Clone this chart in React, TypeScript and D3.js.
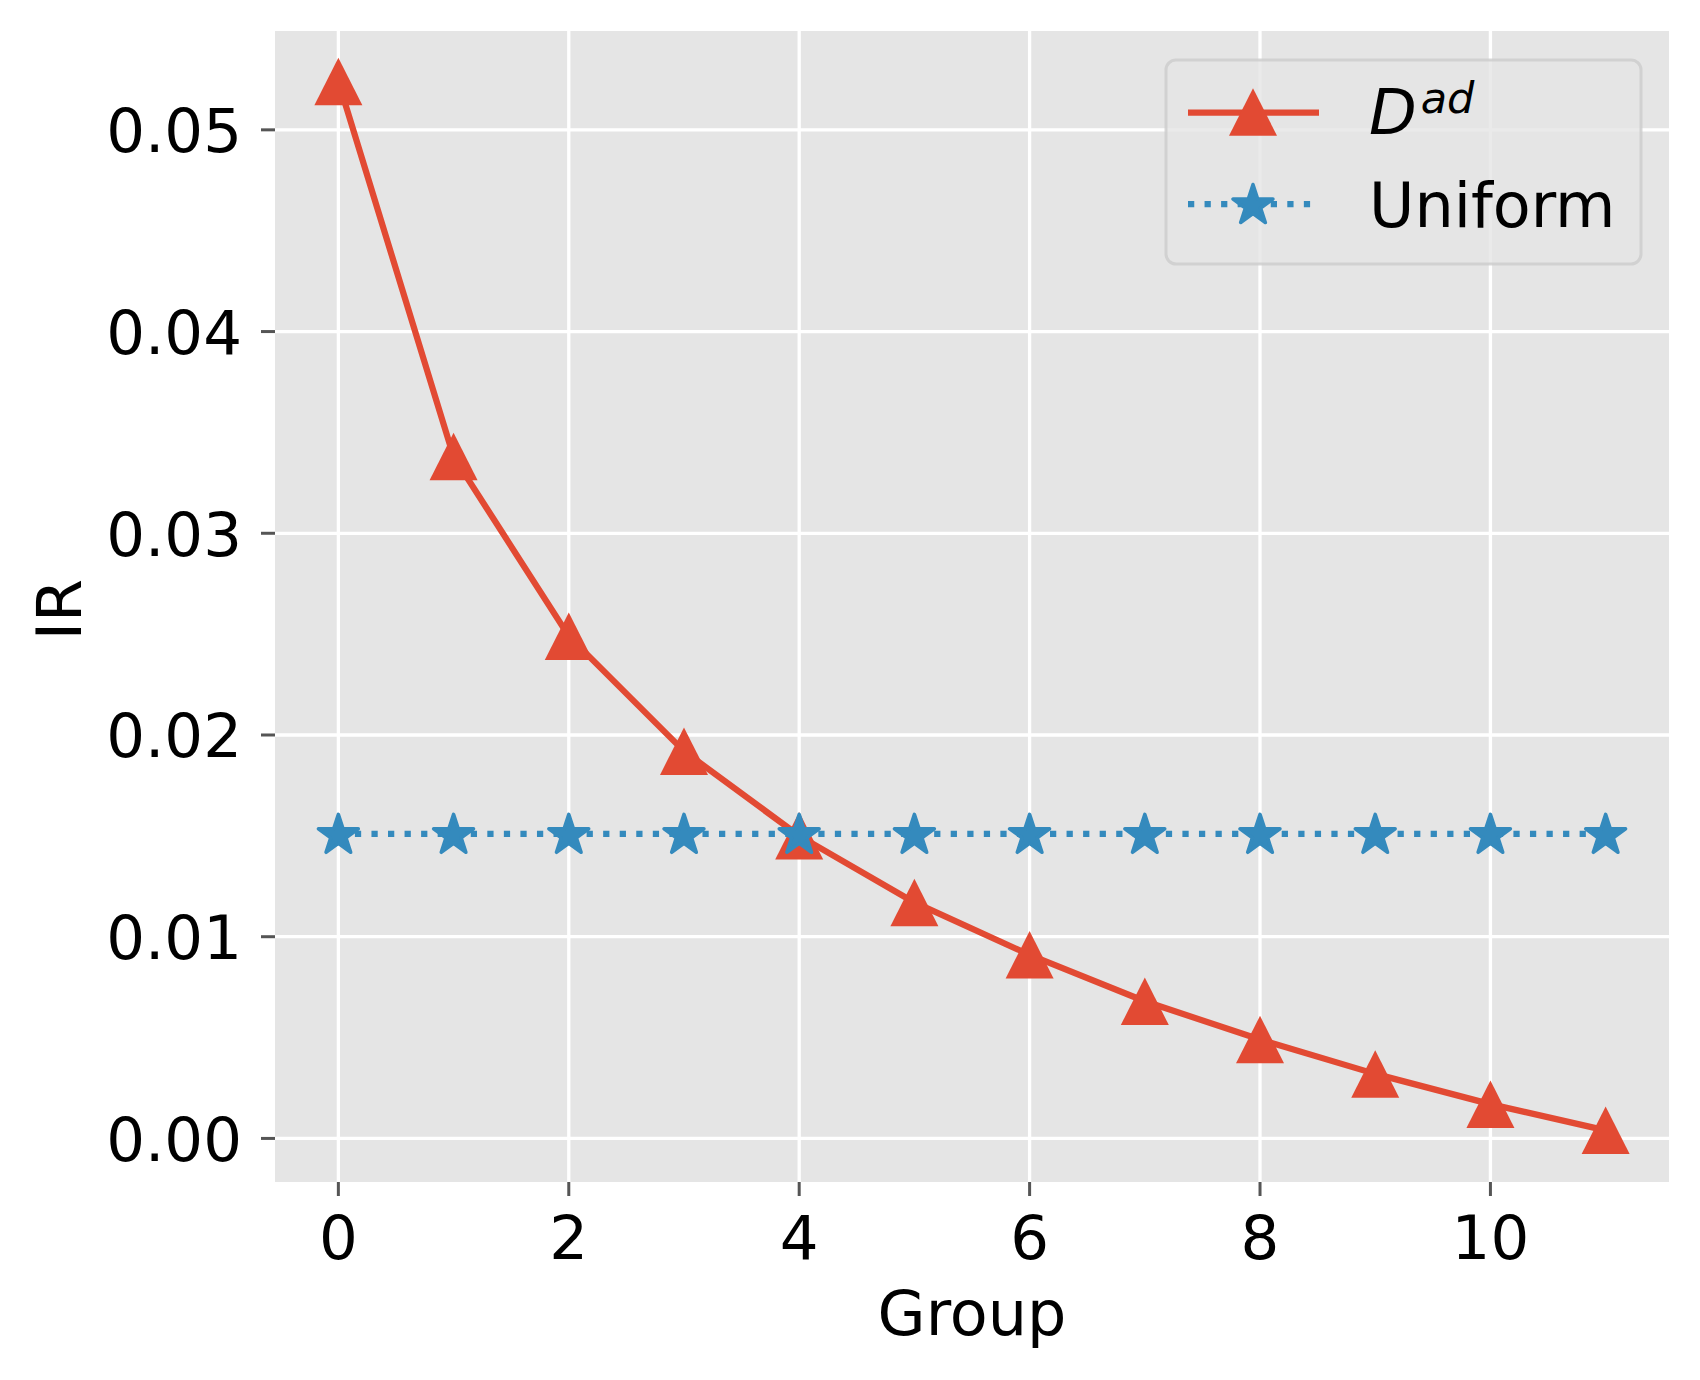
import * as d3 from 'd3';

// data
const groups = [0, 1, 2, 3, 4, 5, 6, 7, 8, 9, 10, 11];
const dadValues = [0.0524, 0.0338, 0.0249, 0.0192, 0.015, 0.0117, 0.0091, 0.0068, 0.0049, 0.0032, 0.0017, 0.0004];
const uniformValues = [0.0151, 0.0151, 0.0151, 0.0151, 0.0151, 0.0151, 0.0151, 0.0151, 0.0151, 0.0151, 0.0151, 0.0151];
const xTicks = [0, 2, 4, 6, 8, 10];
const yTicks = [0, 0.01, 0.02, 0.03, 0.04, 0.05];

const WIDTH = 1700;
const HEIGHT = 1380;
const plot = { left: 275, right: 1669, top: 31, bottom: 1182 };

const RED = '#E24A33';
const BLUE = '#348ABD';
const FONT = "'DejaVu Sans', sans-serif";

function trianglePath(w: number, h: number) {
  return `M0,${-h / 2}L${w / 2},${h / 2}L${-w / 2},${h / 2}Z`;
}

function starPath(r: number) {
  const inner = r * 0.381966;
  const pts: string[] = [];
  for (let i = 0; i < 10; i++) {
    const rad = i % 2 === 0 ? r : inner;
    const a = (Math.PI / 5) * i;
    pts.push(`${(rad * Math.sin(a)).toFixed(2)},${(-rad * Math.cos(a)).toFixed(2)}`);
  }
  return `M${pts.join('L')}Z`;
}

export default function App() {
  const x = d3.scaleLinear().domain([-0.55, 11.55]).range([plot.left, plot.right]);
  const y = d3.scaleLinear().domain([-0.00216, 0.0549]).range([plot.bottom, plot.top]);

  const line = d3
    .line<number>()
    .x((_, i) => x(groups[i]))
    .y((d) => y(d));

  const tri = trianglePath(48, 47.5);
  const star = starPath(21);

  // legend box
  const lg = { x: 1166, y: 60, w: 475, h: 204 };
  const handle = { x1: 1188, x2: 1319, mid: 1253 };

  return (
    <div style={{ position: 'absolute', left: 0, top: 0 }}>
      <svg width={WIDTH} height={HEIGHT} style={{ display: 'block', background: '#fff' }} fontFamily={FONT}>
        {/* axes background */}
        <rect x={plot.left} y={plot.top} width={plot.right - plot.left} height={plot.bottom - plot.top} fill="#E5E5E5" />

        {/* grid */}
        {xTicks.map((t) => (
          <line key={`gx${t}`} x1={x(t)} x2={x(t)} y1={plot.top} y2={plot.bottom} stroke="#fff" strokeWidth={3.3} />
        ))}
        {yTicks.map((t) => (
          <line key={`gy${t}`} x1={plot.left} x2={plot.right} y1={y(t)} y2={y(t)} stroke="#fff" strokeWidth={3.3} />
        ))}

        {/* ticks + labels */}
        {xTicks.map((t) => (
          <g key={`tx${t}`}>
            <line x1={x(t)} x2={x(t)} y1={plot.bottom} y2={plot.bottom + 14} stroke="#555" strokeWidth={3} />
            <text x={x(t)} y={1259} textAnchor="middle" fontSize={61} fill="#000">
              {t}
            </text>
          </g>
        ))}
        {yTicks.map((t) => (
          <g key={`ty${t}`}>
            <line x1={plot.left - 14} x2={plot.left} y1={y(t)} y2={y(t)} stroke="#555" strokeWidth={3} />
            <text x={242} y={y(t) + 22.5} textAnchor="end" fontSize={61} fill="#000">
              {d3.format('.2f')(t)}
            </text>
          </g>
        ))}

        {/* axis labels */}
        <text x={(plot.left + plot.right) / 2} y={1335} textAnchor="middle" fontSize={62} fill="#000">
          Group
        </text>
        <text
          transform={`translate(81,${(plot.top + plot.bottom) / 2 + 3}) rotate(-90)`}
          textAnchor="middle"
          fontSize={62}
          fill="#000"
        >
          IR
        </text>

        {/* D^ad series */}
        <path d={line(dadValues) ?? ''} fill="none" stroke={RED} strokeWidth={6.25} strokeLinejoin="round" />
        {dadValues.map((v, i) => (
          <path key={`m${i}`} d={tri} transform={`translate(${x(groups[i])},${y(v)})`} fill={RED} />
        ))}

        {/* Uniform series */}
        <path d={line(uniformValues) ?? ''} fill="none" stroke={BLUE} strokeWidth={6.25} strokeDasharray="6.25 10.3" />
        {uniformValues.map((v, i) => (
          <path
            key={`s${i}`}
            d={star}
            transform={`translate(${x(groups[i])},${y(v) + 1.5})`}
            fill={BLUE}
            stroke={BLUE}
            strokeWidth={3.5}
            strokeLinejoin="round"
          />
        ))}

        {/* legend */}
        <g>
          <rect
            x={lg.x}
            y={lg.y}
            width={lg.w}
            height={lg.h}
            rx={10}
            fill="#E5E5E5"
            fillOpacity={0.8}
            stroke="#CCCCCC"
            strokeOpacity={0.8}
            strokeWidth={3}
          />
          <line x1={handle.x1} x2={handle.x2} y1={112.7} y2={112.7} stroke={RED} strokeWidth={6.25} />
          <path d={tri} transform={`translate(${handle.mid},112)`} fill={RED} />
          <text x={1369} y={134} fontSize={62} fill="#000" fontStyle="italic">
            D
            <tspan fontSize={43} dy={-21} dx={4}>
              ad
            </tspan>
          </text>

          <line
            x1={handle.x1}
            x2={handle.x2}
            y1={204}
            y2={204}
            stroke={BLUE}
            strokeWidth={6.25}
            strokeDasharray="6.25 10.3"
          />
          <path
            d={star}
            transform={`translate(${handle.mid},205.5)`}
            fill={BLUE}
            stroke={BLUE}
            strokeWidth={3.5}
            strokeLinejoin="round"
          />
          <text x={1369} y={226.7} fontSize={62} fill="#000">
            Uniform
          </text>
        </g>
      </svg>
    </div>
  );
}
